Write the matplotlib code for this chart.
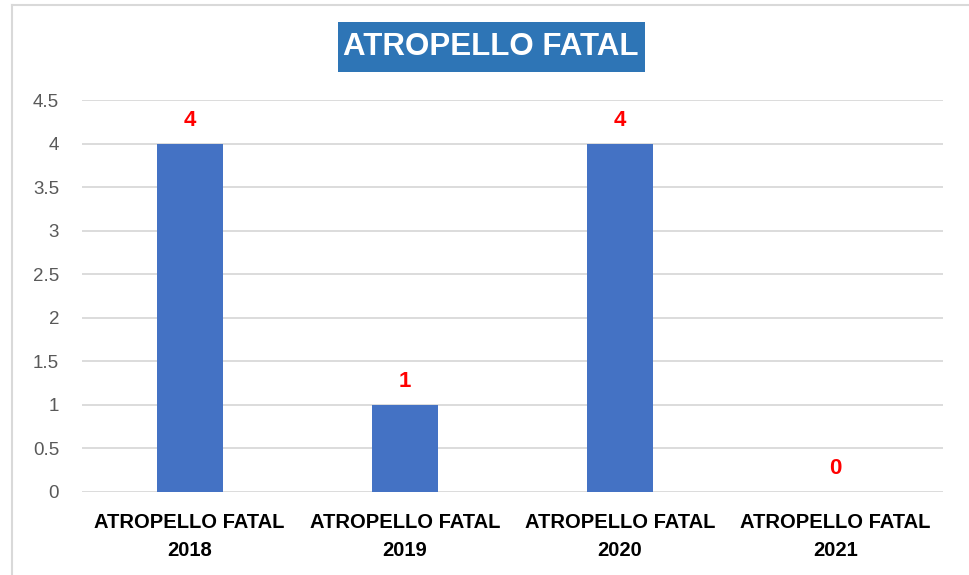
import matplotlib
matplotlib.use("Agg")
import matplotlib.pyplot as plt
from matplotlib.lines import Line2D
from matplotlib.patches import Rectangle

categories = ["ATROPELLO FATAL\n2018", "ATROPELLO FATAL\n2019", "ATROPELLO FATAL\n2020", "ATROPELLO FATAL\n2021"]
values = [4, 1, 4, 0]
yticks = [0, 0.5, 1, 1.5, 2, 2.5, 3, 3.5, 4, 4.5]
ytick_labels = ["0", "0.5", "1", "1.5", "2", "2.5", "3", "3.5", "4", "4.5"]
title = "ATROPELLO FATAL"

W, H = 970, 575
fig = plt.figure(figsize=(W / 100, H / 100), dpi=100)
fig.patch.set_facecolor("white")

ax = fig.add_axes([82 / W, 1 - 492 / H, (943 - 82) / W, (492 - 100) / H])
x = list(range(len(categories)))
ax.bar(x, values, width=0.307, color="#4472C4", zorder=3)
ax.set_xlim(-0.5, len(categories) - 0.5)
ax.set_ylim(0, 4.5)
ax.set_yticks(yticks)
ax.set_yticklabels(ytick_labels, fontsize=13.5, color="#595959", family=["Liberation Sans", "DejaVu Sans"])
ax.set_xticks(x)
ax.set_xticklabels(categories, fontsize=14.5, fontweight="bold", color="black",
                   family=["Liberation Sans", "DejaVu Sans"], linespacing=1.6)
ax.tick_params(axis="both", length=0)
ax.tick_params(axis="y", pad=16.5)
ax.tick_params(axis="x", pad=15)
ax.grid(axis="y", color="#D9D9D9", linewidth=1.3, zorder=0)
for s in ax.spines.values():
    s.set_visible(False)

for xi, v in zip(x, values):
    ax.annotate(str(v), (xi, v), xytext=(0, 12.7), textcoords="offset points",
                ha="center", va="baseline", color="#FF0000", fontsize=16, fontweight="bold",
                family=["Liberation Sans", "DejaVu Sans"])

fig.add_artist(Rectangle((338 / W, 1 - 72 / H), (645 - 338) / W, 50 / H,
                         transform=fig.transFigure, facecolor="#2E75B6", edgecolor="none"))
fig.text(491 / W, 1 - 47 / H, title, ha="center", va="center", color="white",
         fontsize=22.5, fontweight="bold", family=["Liberation Sans", "DejaVu Sans"])

fig.add_artist(Line2D([12 / W, 12 / W], [0, 1 - 5 / H], color="#D9D9D9", linewidth=1.5, transform=fig.transFigure))
fig.add_artist(Line2D([12 / W, 1], [1 - 5 / H, 1 - 5 / H], color="#D9D9D9", linewidth=1.5, transform=fig.transFigure))

fig.savefig("out.png", dpi=100, facecolor="white")
